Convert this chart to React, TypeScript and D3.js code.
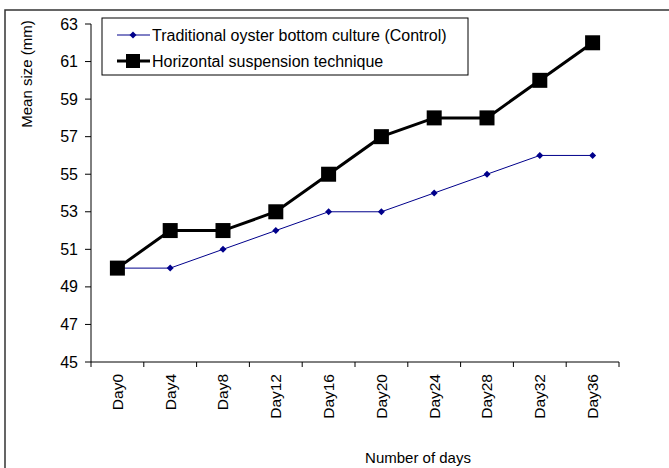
import React from 'react'
import * as d3 from 'd3'

const days = ['Day0', 'Day4', 'Day8', 'Day12', 'Day16', 'Day20', 'Day24', 'Day28', 'Day32', 'Day36']
const controlValues = [50, 50, 51, 52, 53, 53, 54, 55, 56, 56]
const suspensionValues = [50, 52, 52, 53, 55, 57, 58, 58, 60, 62]
const yTicks = [45, 47, 49, 51, 53, 55, 57, 59, 61, 63]
const legendLabels = ['Traditional oyster bottom culture (Control)', 'Horizontal suspension technique']

const W = 669
const H = 468
const margin = { top: 24, right: 50, bottom: 106, left: 91 }
const font = '"Liberation Sans", Arial, sans-serif'

export default function App() {
  const innerW = 619 - margin.left
  const innerH = 362 - margin.top

  const x = d3.scaleBand().domain(days).range([0, innerW])
  const y = d3.scaleLinear().domain([45, 63]).range([innerH, 0])
  const cx = (d: string) => (x(d) as number) + x.bandwidth() / 2

  const line = d3.line<number>()
    .x((_, i) => cx(days[i]))
    .y(v => y(v))

  const xTickPos = days.map(d => x(d) as number).concat([innerW])

  return (
    <svg width={W} height={H} style={{ position: 'absolute', left: 0, top: 0, background: '#fff' }} fontFamily={font}>
      <rect x={5} y={10} width={700} height={500} fill="none" stroke="#333" strokeWidth={1.5} />
      <g transform={`translate(${margin.left},${margin.top})`}>
        {/* y axis */}
        <line x1={0} x2={0} y1={0} y2={innerH} stroke="#000" />
        {yTicks.map(t => (
          <g key={t} transform={`translate(0,${y(t)})`}>
            <line x1={-6} x2={0} stroke="#000" />
            <text x={-13} dy="0.35em" textAnchor="end" fontSize={16}>{t}</text>
          </g>
        ))}
        {/* x axis */}
        <line x1={0} x2={innerW} y1={innerH} y2={innerH} stroke="#000" />
        {xTickPos.map((p, i) => (
          <line key={i} x1={p} x2={p} y1={innerH} y2={innerH + 5} stroke="#000" />
        ))}
        {days.map(d => (
          <text key={d} transform={`translate(${cx(d)},${innerH + 12}) rotate(-90)`} dy="0.35em"
            textAnchor="end" fontSize={15.5}>{d}</text>
        ))}

        {/* control series */}
        <path d={line(controlValues) as string} fill="none" stroke="#00008b" strokeWidth={1} />
        {controlValues.map((v, i) => (
          <path key={i} transform={`translate(${cx(days[i])},${y(v)})`}
            d="M0,-3.5L3.5,0L0,3.5L-3.5,0Z" fill="#00008b" />
        ))}

        {/* suspension series */}
        <path d={line(suspensionValues) as string} fill="none" stroke="#000" strokeWidth={3} />
        {suspensionValues.map((v, i) => (
          <rect key={i} x={cx(days[i]) - 7.5} y={y(v) - 7.5} width={15} height={15} fill="#000" />
        ))}
      </g>

      {/* legend */}
      <rect x={102} y={18} width={366} height={57} fill="#fff" stroke="#000" strokeWidth={1} />
      <line x1={117} x2={150} y1={35} y2={35} stroke="#00008b" strokeWidth={1} />
      <path transform="translate(133,35)" d="M0,-3.5L3.5,0L0,3.5L-3.5,0Z" fill="#00008b" />
      <text x={152} y={35} dy="0.35em" fontSize={16}>{legendLabels[0]}</text>
      <line x1={117} x2={150} y1={61} y2={61} stroke="#000" strokeWidth={3} />
      <rect x={126} y={54} width={14} height={14} fill="#000" />
      <text x={152} y={61} dy="0.35em" fontSize={16}>{legendLabels[1]}</text>

      {/* axis titles */}
      <text transform="translate(27,74) rotate(-90)" dy="0.35em" textAnchor="middle" fontSize={15}>Mean size (mm)</text>
      <text x={418} y={458} dy="0.35em" textAnchor="middle" fontSize={15}>Number of days</text>
    </svg>
  )
}
